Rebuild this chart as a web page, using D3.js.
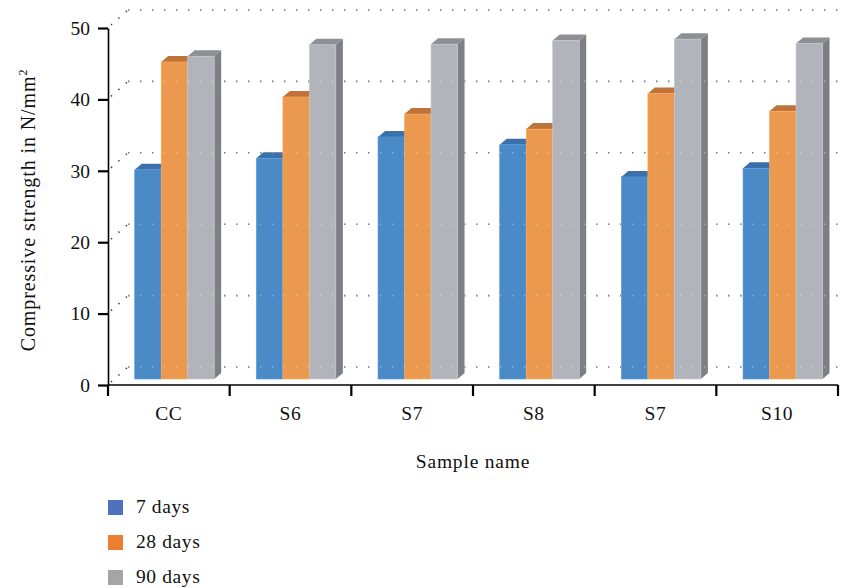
<!DOCTYPE html>
<html>
<head>
<meta charset="utf-8">
<script src="https://cdn.jsdelivr.net/npm/d3@7"></script>
<style>
  html, body { margin: 0; padding: 0; background: #fff; }
  svg { display: block; font-family: "Liberation Serif", "DejaVu Serif", serif; }
</style>
</head>
<body>
<svg id="chart" width="847" height="588"></svg>
<script>
// Compressive strength of the mixes at three curing ages
const categories = ["CC", "S6", "S7", "S8", "S7", "S10"];
const seriesNames = ["7 days", "28 days", "90 days"];
const days7  = [29.3, 30.9, 33.9, 32.8, 28.3, 29.5];
const days28 = [44.4, 39.5, 37.1, 35.0, 40.0, 37.5];
const days90 = [45.2, 46.8, 46.9, 47.4, 47.6, 47.0];
const yTicks = [0, 10, 20, 30, 40, 50];

const seriesValues = [days7, days28, days90];
const frontColors = ["#4a8bc7", "#eb994e", "#b1b4bb"];
const topColors   = ["#3a71ab", "#bf733b", "#8c9095"];
const sideColor   = "#7c8085";
const legendColors = ["#4f72be", "#ed7d31", "#a5a5a5"];

const svg = d3.select("#chart");
const textSize = 19.5;

const plotLeft = 108, plotRight = 838, plotBottom = 385, plotTop = 28;
// depth offsets: back wall, plane of the bars, bar thickness
const wall = { dx: 20, dy: -18 };
const plane = { dx: 6.7, dy: -6 };
const depth = { dx: 7, dy: -6 };

const y = d3.scaleLinear().domain([0, 50]).range([plotBottom, plotTop]);
const x0 = d3.scaleBand().domain(d3.range(categories.length)).range([plotLeft, plotRight]);
const x1 = d3.scaleBand().domain(d3.range(seriesNames.length)).range([0, 79.5]);

// back-wall dotted gridlines and their side-wall returns
const grid = svg.append("g")
  .attr("stroke", "#444")
  .attr("stroke-width", 1.6)
  .attr("stroke-dasharray", "1.4,10.6")
  .attr("fill", "none");
yTicks.forEach(t => {
  const yy = y(t) + wall.dy;
  grid.append("line")
    .attr("x1", plotLeft + wall.dx).attr("x2", 847)
    .attr("y1", yy).attr("y2", yy);
  grid.append("line")
    .attr("x1", plotLeft + 3).attr("y1", y(t) - 3)
    .attr("x2", plotLeft + wall.dx).attr("y2", yy)
    .attr("stroke-dasharray", "1.4,8.5");
});

// bars: front face, top face, and a side face on the last bar of each group
const bars = svg.append("g");
categories.forEach((c, ci) => {
  seriesValues.forEach((vals, si) => {
    const v = vals[ci];
    const bx = x0(ci) + wall.dx + plane.dx + x1(si);
    const w = x1.bandwidth();
    const yTop = y(v) + plane.dy;
    const yBot = y(0) + plane.dy;
    const g = bars.append("g");
    if (si === seriesValues.length - 1) {
      g.append("path")
        .attr("d", `M${bx + w},${yTop} L${bx + w + depth.dx},${yTop + depth.dy} L${bx + w + depth.dx},${yBot + depth.dy} L${bx + w},${yBot} Z`)
        .attr("fill", sideColor);
    }
    g.append("path")
      .attr("d", `M${bx},${yTop} L${bx + depth.dx},${yTop + depth.dy} L${bx + w + depth.dx},${yTop + depth.dy} L${bx + w},${yTop} Z`)
      .attr("fill", topColors[si]);
    g.append("rect")
      .attr("x", bx).attr("y", yTop)
      .attr("width", w).attr("height", yBot - yTop)
      .attr("fill", frontColors[si])
      .attr("stroke", d3.color(frontColors[si]).brighter(0.3))
      .attr("stroke-width", 0.6);
  });
});

// faint dots of the gridlines showing through the bars
const gridOver = svg.append("g")
  .attr("stroke", "#ffffff")
  .attr("stroke-opacity", 0.35)
  .attr("stroke-width", 1.6)
  .attr("stroke-dasharray", "1.4,10.6");
yTicks.forEach(t => {
  const yy = y(t) + wall.dy;
  gridOver.append("line")
    .attr("x1", plotLeft + wall.dx).attr("x2", 847)
    .attr("y1", yy).attr("y2", yy);
});

// y axis
const yAxis = svg.append("g")
  .attr("transform", `translate(${plotLeft},0)`)
  .call(d3.axisLeft(y).tickValues(yTicks).tickSize(10).tickPadding(8).tickSizeOuter(0));
yAxis.select(".domain").attr("stroke", "#000").attr("stroke-width", 1.6);
yAxis.selectAll(".tick line").attr("stroke", "#000").attr("stroke-width", 2.2);
yAxis.selectAll(".tick text")
  .attr("font-family", "Liberation Serif, serif")
  .attr("font-size", textSize).attr("fill", "#111");

// x axis with ticks on the category boundaries
const xAxisG = svg.append("g").attr("transform", `translate(0,${plotBottom})`);
xAxisG.append("line")
  .attr("x1", plotLeft).attr("x2", plotRight)
  .attr("stroke", "#000").attr("stroke-width", 1.6);
const bounds = categories.map((c, i) => x0(i)).concat([plotRight]);
xAxisG.selectAll(".xt").data(bounds).join("line")
  .attr("x1", d => d).attr("x2", d => d)
  .attr("y1", 0).attr("y2", 11)
  .attr("stroke", "#000").attr("stroke-width", 2.2);
xAxisG.selectAll(".xl").data(categories).join("text")
  .attr("x", (d, i) => x0(i) + x0.bandwidth() / 2)
  .attr("y", 35)
  .attr("text-anchor", "middle")
  .attr("font-size", textSize).attr("letter-spacing", 0.6).attr("fill", "#111")
  .text(d => d);

// axis titles
svg.append("text")
  .attr("x", (plotLeft + plotRight) / 2).attr("y", 468)
  .attr("text-anchor", "middle")
  .attr("font-size", textSize).attr("letter-spacing", 0.8).attr("fill", "#111")
  .text("Sample name");

const yTitle = svg.append("text")
  .attr("transform", "translate(35,210) rotate(-90)")
  .attr("text-anchor", "middle")
  .attr("font-size", 20).attr("letter-spacing", 0.9).attr("fill", "#111");
yTitle.append("tspan").text("Compressive strength in N/mm");
yTitle.append("tspan").attr("dy", -8).attr("font-size", 12).text("2");

// legend
const legend = svg.append("g");
seriesNames.forEach((s, i) => {
  const ly = 507 + i * 35;
  legend.append("rect")
    .attr("x", 108).attr("y", ly - 7)
    .attr("width", 15).attr("height", 15)
    .attr("fill", legendColors[i]);
  legend.append("text")
    .attr("x", 136).attr("y", ly + 6)
    .attr("font-size", textSize).attr("letter-spacing", 0.6).attr("fill", "#111")
    .text(s);
});
</script>
</body>
</html>
